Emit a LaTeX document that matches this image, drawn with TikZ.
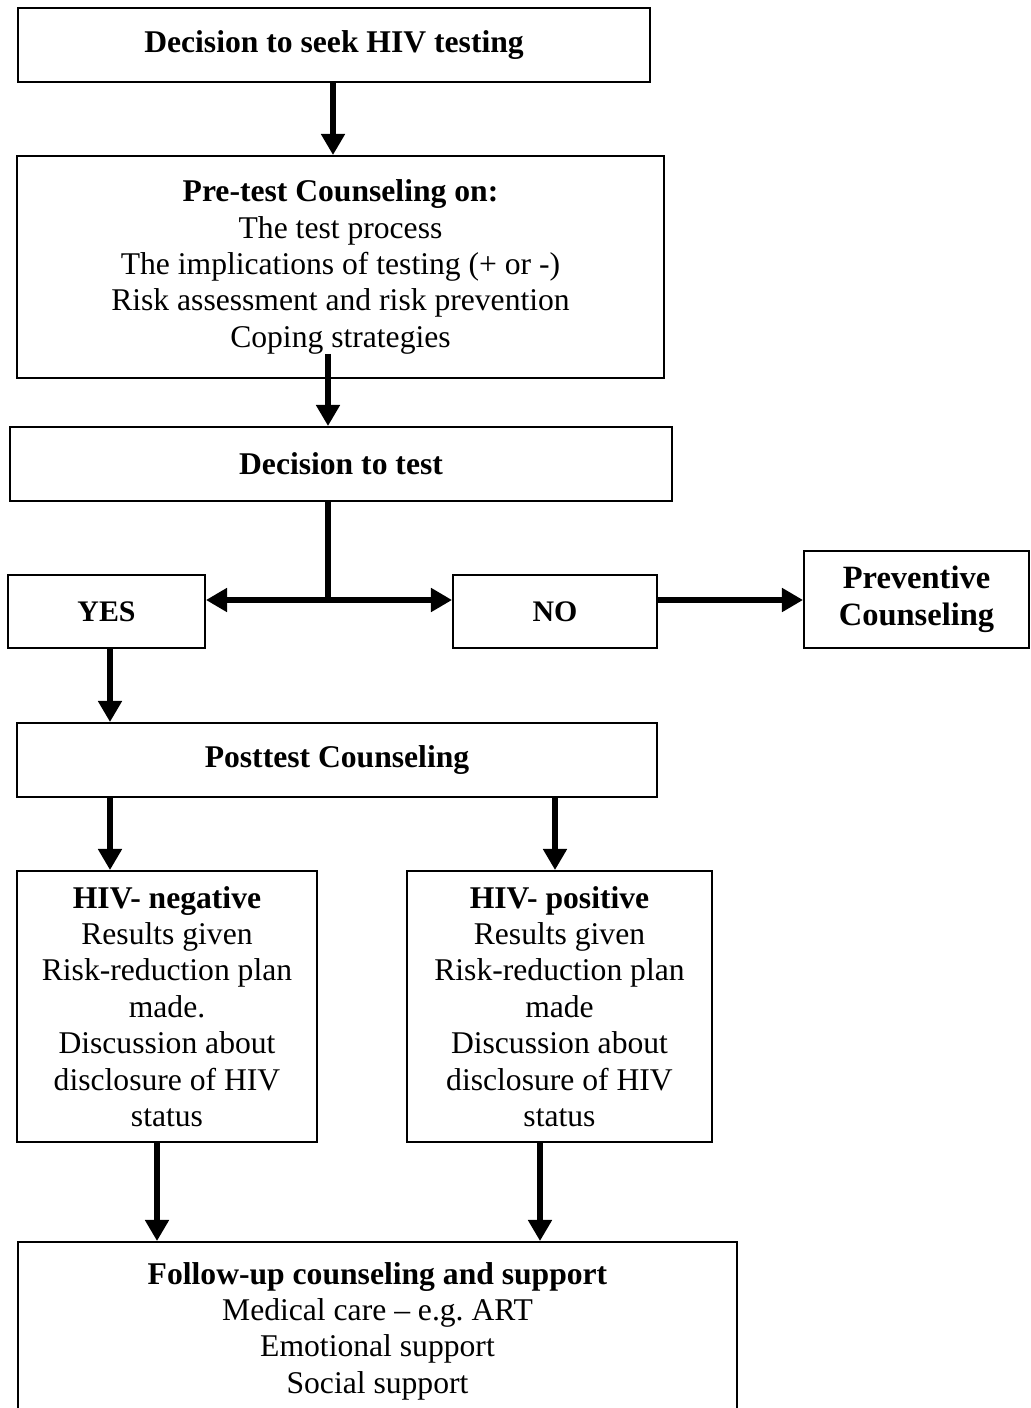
\documentclass[tikz,border=0pt]{standalone}
\usepackage{fontspec}
\setmainfont{Liberation Serif}
\usetikzlibrary{arrows.meta,positioning}
\frenchspacing

\begin{document}
\begin{tikzpicture}[x=0.02cm,y=-0.02cm,box/.style={draw,line width=1.1pt,inner sep=0pt,align=center,font=\fontsize{18}{20.7}\selectfont},a/.style={-{Triangle[length=12pt,width=13pt]},line width=3.8pt}]
\useasboundingbox (0,0) rectangle (1030,1408);
\node[box,minimum width=12.64cm,minimum height=1.48cm] (seek) at (334,45) {\textbf{Decision to seek HIV testing}};
\node[box,minimum width=12.94cm,minimum height=4.44cm] (pretest) at (340.5,267) {\textbf{Pre-test Counseling on:}\\The test process\\The implications of testing (+ or -)\\Risk assessment and risk prevention\\Coping strategies};
\node[box,minimum width=13.24cm,minimum height=1.48cm] (dectest) at (341,464) {\textbf{Decision to test}};
\node[box,minimum width=3.94cm,minimum height=1.46cm,font=\fontsize{17}{19.5}\selectfont] (yes) at (106.5,611.5) {\textbf{YES}};
\node[box,minimum width=4.08cm,minimum height=1.46cm,font=\fontsize{17}{19.5}\selectfont] (no) at (555,611.5) {\textbf{NO}};
\node[box,minimum width=4.5cm,minimum height=1.94cm,font=\fontsize{18.5}{21.3}\selectfont] (prevent) at (916.5,599.5) {\textbf{Preventive}\\\textbf{Counseling}};
\node[box,minimum width=12.8cm,minimum height=1.48cm] (posttest) at (337,760) {\textbf{Posttest Counseling}};
\node[box,minimum width=6cm,minimum height=5.42cm] (neg) at (167,1006.5) {\textbf{HIV- negative}\\Results given\\Risk-reduction plan\\made.\\Discussion about\\disclosure of HIV\\status};
\node[box,minimum width=6.1cm,minimum height=5.42cm] (pos) at (559.5,1006.5) {\textbf{HIV- positive}\\Results given\\Risk-reduction plan\\made\\Discussion about\\disclosure of HIV\\status};
\node[box,minimum width=14.38cm,minimum height=3.56cm] (follow) at (377.5,1331) {\textbf{Follow-up counseling and support}\\Medical care -- e.g. ART\\Emotional support\\Social support};
% arrow columns
\coordinate (c1) at (333,0); \coordinate (c2) at (328,0);
\coordinate (c3) at (110,0); \coordinate (c4) at (555,0);
\coordinate (c5) at (157,0); \coordinate (c6) at (540,0);
\coordinate (split) at (328,600);
\draw[a] (seek.south -| c1)--(pretest.north -| c1);
\draw[a] ([yshift=0.5cm]pretest.south -| c2)--(dectest.north -| c2);
\draw[line width=3.8pt] (dectest.south -| split)--(split);
\draw[a,{Triangle[length=12pt,width=13pt]}-{Triangle[length=12pt,width=13pt]}] (yes.east |- split)--(no.west |- split);
\draw[a] (no.east |- split)--(prevent.west |- split);
\draw[a] (yes.south -| c3)--(posttest.north -| c3);
\draw[a] (posttest.south -| c3)--(neg.north -| c3);
\draw[a] (posttest.south -| c4)--(pos.north -| c4);
\draw[a] (neg.south -| c5)--(follow.north -| c5);
\draw[a] (pos.south -| c6)--(follow.north -| c6);
\end{tikzpicture}
\end{document}
